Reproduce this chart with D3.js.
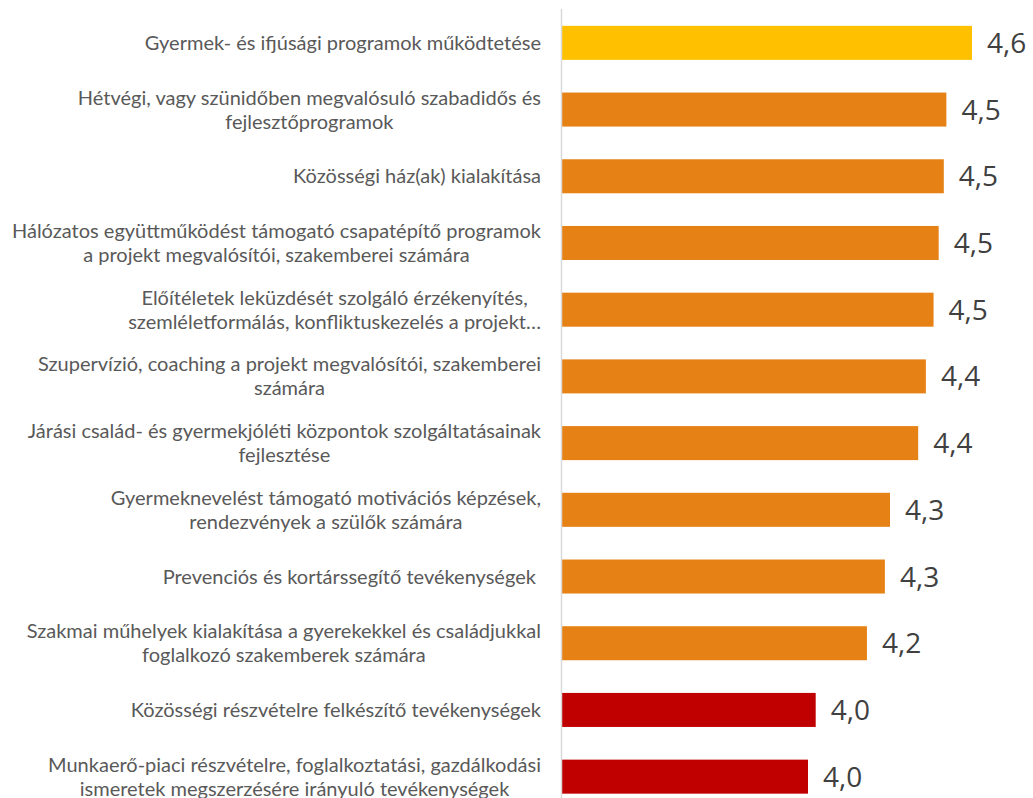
<!DOCTYPE html>
<html lang="hu">
<head>
<meta charset="utf-8">
<title>Programok értékelése</title>
<script src="https://cdn.jsdelivr.net/npm/d3@7"></script>
<style>
  body { margin: 0; background: #fff; }
  svg { display: block; }
</style>
</head>
<body>
<script>
// categories, one entry per bar (line breaks as in the original)
var categories = [
  "Gyermek- és ifjúsági programok működtetése",
  "Hétvégi, vagy szünidőben megvalósuló szabadidős és\nfejlesztőprogramok",
  "Közösségi ház(ak) kialakítása",
  "Hálózatos együttműködést támogató csapatépítő programok\na projekt megvalósítói, szakemberei számára",
  "Előítéletek leküzdését szolgáló érzékenyítés,\nszemléletformálás, konfliktuskezelés a projekt…",
  "Szupervízió, coaching a projekt megvalósítói, szakemberei\nszámára",
  "Járási család- és gyermekjóléti központok szolgáltatásainak\nfejlesztése",
  "Gyermeknevelést támogató motivációs képzések,\nrendezvények a szülők számára",
  "Prevenciós és kortárssegítő tevékenységek ",
  "Szakmai műhelyek kialakítása a gyerekekkel és családjukkal\nfoglalkozó szakemberek számára",
  "Közösségi részvételre felkészítő tevékenységek",
  "Munkaerő-piaci részvételre, foglalkoztatási, gazdálkodási\nismeretek megszerzésére irányuló tevékenységek"
];
var values = [4.60, 4.50, 4.49, 4.47, 4.45, 4.42, 4.39, 4.28, 4.26, 4.19, 3.99, 3.96];
var groups = ["top", "mid", "mid", "mid", "mid", "mid", "mid", "mid", "mid", "mid", "low", "low"];
var xDomain = [3, 4.6];

var w = 1033, h = 798;
var axisX = 562, barMaxX = 972;

var color = d3.scaleOrdinal()
  .domain(["top", "mid", "low"])
  .range(["#FFC000", "#E68215", "#C00000"]);

var xScale = d3.scaleLinear().domain(xDomain).range([axisX, barMaxX]);
var yScale = d3.scaleBand()
  .domain(d3.range(categories.length))
  .range([9.5, 810])
  .paddingInner(0.49)
  .paddingOuter(0.245);

var svg = d3.select("body").append("svg")
  .attr("width", w)
  .attr("height", h);

var fmt = function(v) { return d3.format(".1f")(v).replace(".", ","); };

svg.selectAll("rect.bar")
  .data(values)
  .enter()
  .append("rect")
  .attr("class", "bar")
  .attr("x", xScale(xDomain[0]))
  .attr("y", function(d, i) { return yScale(i); })
  .attr("width", function(d) { return xScale(d) - xScale(xDomain[0]); })
  .attr("height", yScale.bandwidth())
  .attr("fill", function(d, i) { return color(groups[i]); });

// vertical axis line
svg.append("line")
  .attr("x1", axisX - 0.5).attr("x2", axisX - 0.5)
  .attr("y1", 9).attr("y2", h)
  .attr("stroke", "#D9D9D9")
  .attr("stroke-width", 1.5);

// value labels
svg.selectAll("text.val")
  .data(values)
  .enter()
  .append("text")
  .attr("class", "val")
  .attr("x", function(d) { return xScale(d) + 15; })
  .attr("y", function(d, i) { return yScale(i) + yScale.bandwidth() / 2; })
  .attr("dy", "0.36em")
  .attr("font-family", "'Open Sans', sans-serif")
  .attr("font-size", 28)
  .attr("fill", "#404040")
  .text(fmt);

// category labels, lines centred inside a block right-aligned to the axis
var lineH = 24;
var labels = svg.selectAll("g.cat")
  .data(categories)
  .enter()
  .append("g")
  .attr("class", "cat");

labels.each(function(d, i) {
  var g = d3.select(this);
  var lines = d.split("\n");
  var cy = yScale(i) + yScale.bandwidth() / 2;
  var tx = g.selectAll("text")
    .data(lines)
    .enter()
    .append("text")
    .attr("y", function(l, j) { return cy + (j - (lines.length - 1) / 2) * lineH; })
    .attr("dy", "0.35em")
    .attr("text-anchor", "middle")
    .attr("font-family", "Lato, sans-serif")
    .attr("font-size", 20)
    .attr("fill", "#595959")
    .style("white-space", "pre")
    .text(function(l) { return l; });
  var maxW = d3.max(tx.nodes(), function(n) { return n.getComputedTextLength(); });
  tx.attr("x", 541 - maxW / 2);
});
</script>
</body>
</html>
